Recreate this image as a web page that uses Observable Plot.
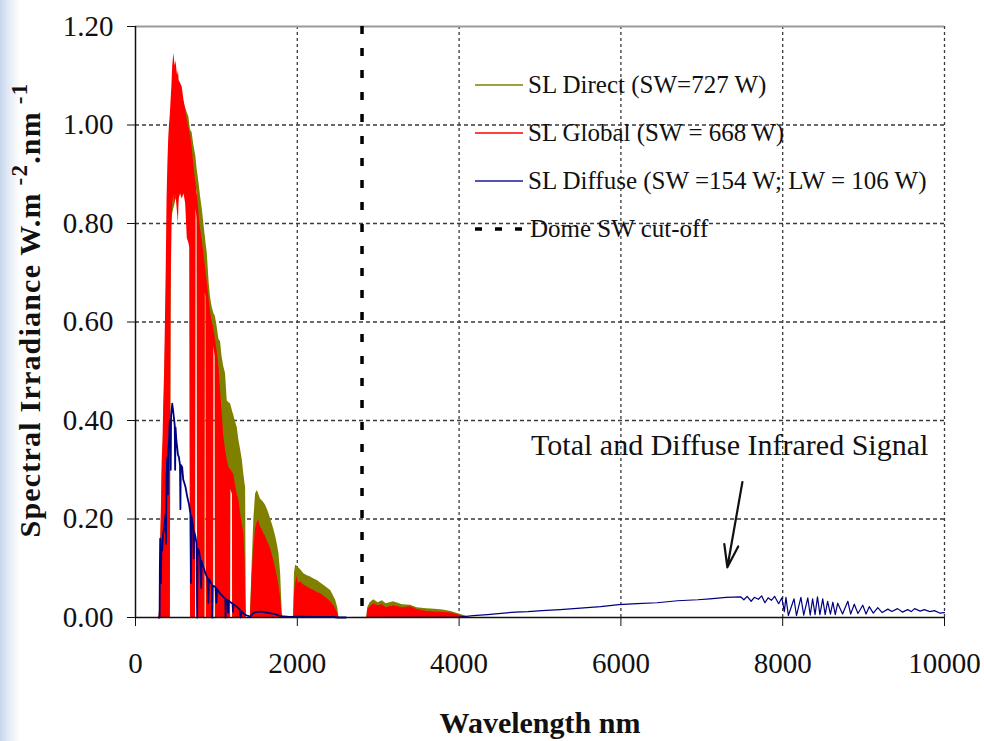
<!DOCTYPE html>
<html>
<head>
<meta charset="utf-8">
<script src="https://cdn.jsdelivr.net/npm/d3@7"></script>
<script src="https://cdn.jsdelivr.net/npm/@observablehq/plot@0.6"></script>
<style>
  html, body { margin: 0; padding: 0; width: 984px; height: 741px; overflow: hidden; }
  body { background: linear-gradient(to right, #c6d6ec 0px, #e3ebf6 9px, #ffffff 20px); }
</style>
</head>
<body>
<div id="chart"></div>
<script>
const FONT = "'Liberation Serif', 'Times New Roman', 'DejaVu Serif', serif";

// ---- Shortwave spectra (min/max envelope of the dense spectra) ----
const wavelength = [290,300,310,320,330,340,350,360,370,380,
  390,400,410,420,430,440,450,460,474,490,
  500,520,530,540,557,577,600,620,640,660,
  672,680,700,720,742,747,762,767,790,804,
  825,845,858,862,872,876,887,910,928,948,
  965,968,985,988,1010,1031,1051,1070,1090,1113,
  1134,1155,1175,1178,1198,1201,1216,1240,1258,1278,
  1300,1320,1340,1355,1361,1368,1372,1420,1440,1463,
  1484,1505,1525,1546,1567,1587,1608,1629,1649,1670,
  1690,1711,1732,1752,1773,1794,1814,1820,1955,1965,
  1979,2000,2010,2041,2082,2124,2165,2206,2247,2288,
  2330,2371,2412,2453,2474,2500,2515,2860,2870,2900,
  2945,3000,3050,3100,3190,3300,3400,3480,3600,3700,
  3800,3900,4020,4140];

const globalHigh = [0,0.02,0.15,0.22,0.32,0.36,0.44,0.50,0.60,0.71,
  0.85,0.92,0.97,1.00,1.02,1.05,1.08,1.12,1.145,1.12,
  1.13,1.10,1.11,1.09,1.085,1.077,1.05,1.03,1.01,0.995,
  0.985,0.98,0.955,0.92,0.887,0.883,0.86,0.855,0.81,0.79,
  0.765,0.74,0.72,0.715,0.70,0.695,0.68,0.645,0.62,0.60,
  0.59,0.585,0.57,0.565,0.54,0.51,0.46,0.42,0.37,0.34,
  0.32,0.305,0.30,0.30,0.295,0.295,0.29,0.265,0.25,0.24,
  0.21,0.19,0.17,0.12,0.05,0,0,0,0.08,0.143,
  0.18,0.193,0.197,0.183,0.178,0.17,0.165,0.155,0.148,0.14,
  0.128,0.115,0.10,0.085,0.065,0.04,0,0,0,0.05,
  0.069,0.085,0.07,0.072,0.066,0.062,0.058,0.055,0.051,0.048,
  0.043,0.038,0.032,0.024,0.018,0.008,0,0,0.015,0.022,
  0.028,0.024,0.026,0.02,0.024,0.02,0.022,0.016,0.012,0.011,
  0.01,0.009,0.004,0];

const globalLow = [0,0,0,0,0,0,0,0,0,0,
  0,0,0,0,0,0.66,0.80,0.84,0.86,0.84,
  0.86,0.82,0.80,0.85,0.86,0.85,0.86,0.84,0.77,0.76,
  0.75,0,0,0,0,0.83,0.81,0,0,0,
  0,0,0,0.66,0.65,0,0,0,0,0,
  0,0.55,0.53,0,0,0,0,0,0,0,
  0,0,0,0.26,0.25,0,0,0,0,0,
  0,0,0,0,0,0,0,0,0,0,
  0,0,0,0,0,0,0,0,0,0,
  0,0,0,0,0,0,0,0,0,0,
  0,0,0,0,0,0,0,0,0,0,
  0,0,0,0,0,0,0,0,0,0,
  0,0,0,0,0,0,0,0,0,0,
  0,0,0,0];

const directHigh = [0,0.02,0.13,0.20,0.29,0.33,0.40,0.46,0.55,0.63,
  0.74,0.80,0.85,0.88,0.90,0.92,0.95,0.97,1.00,1.02,
  1.03,1.04,1.05,1.055,1.06,1.056,1.045,1.035,1.025,1.016,
  1.00,0.99,0.985,0.96,0.94,0.935,0.91,0.905,0.875,0.855,
  0.83,0.80,0.78,0.775,0.76,0.755,0.74,0.68,0.65,0.63,
  0.62,0.618,0.612,0.61,0.59,0.565,0.56,0.53,0.51,0.495,
  0.44,0.436,0.434,0.432,0.42,0.418,0.41,0.395,0.386,0.36,
  0.34,0.32,0.29,0.27,0.264,0.05,0,0,0.10,0.20,
  0.251,0.258,0.25,0.24,0.237,0.233,0.228,0.22,0.211,0.20,
  0.19,0.178,0.165,0.15,0.13,0.09,0.01,0,0,0.09,
  0.106,0.104,0.102,0.097,0.089,0.085,0.082,0.078,0.075,0.07,
  0.065,0.06,0.055,0.042,0.035,0.02,0,0,0.02,0.03,
  0.036,0.03,0.034,0.028,0.032,0.026,0.025,0.02,0.018,0.017,
  0.015,0.012,0.006,0];

const directLow = [0,0,0,0,0,0,0,0,0,0,
  0,0,0,0,0,0.62,0.80,0.82,0.83,0.84,
  0.85,0.84,0.83,0.86,0.88,0.90,0.90,0.90,0.88,0.88,
  0.86,0,0,0,0,0.88,0.86,0,0,0,
  0,0,0,0.70,0.69,0,0,0,0,0,
  0,0.57,0.56,0,0,0,0,0,0,0,
  0,0,0,0.28,0.27,0,0,0,0,0,
  0,0,0,0,0,0,0,0,0,0,
  0,0,0,0,0,0,0,0,0,0,
  0,0,0,0,0,0,0,0,0,0,
  0,0,0,0,0,0,0,0,0,0,
  0,0,0,0,0,0,0,0,0,0,
  0,0,0,0,0,0,0,0,0,0,
  0,0,0,0];

// ---- Diffuse spectrum (SW + LW) ----
const diffuseWl = [285,298,301,305,309,315,320,330,340,350,
  360,371,377,383,392,400,405,412,424,435,
  440,454,465,474,485,490,495,505,515,525,
  536,550,555,560,577,590,600,618,640,660,
  680,686,692,701,715,720,725,742,755,762,
  768,783,800,812,818,825,845,866,890,900,
  908,928,945,950,955,990,1000,1008,1030,1051,
  1080,1110,1113,1118,1140,1145,1150,1175,1200,1205,
  1210,1258,1290,1300,1310,1320,1350,1381,1420,1450,
  1484,1546,1620,1711,1780,1835,1900,2000,2200,2450,
  2500,2600,4000,4175,4350,4552,4700,4850,5023,5250,
  5500,5750,5975,6200,6445,6700,6950,7100,7300,7480,
  7520,7560,7610,7650,7700,7740,7780,7820,7860,7900,
  7950,7990,8020,8040,8070,8140,8170,8225,8260,8310,
  8340,8370,8400,8430,8460,8495,8525,8555,8590,8620,
  8650,8680,8740,8805,8840,8885,8930,8990,9030,9070,
  9120,9175,9230,9300,9350,9420,9480,9545,9590,9630,
  9700,9750,9820,9875,9940,10000];

const diffuseVal = [0,0,0.10,0.16,0.156,0.07,0.14,0.136,0.17,0.177,
  0.19,0.21,0.15,0.278,0.325,0.25,0.34,0.353,0.40,0.30,
  0.41,0.434,0.42,0.407,0.39,0.30,0.386,0.36,0.346,0.33,
  0.326,0.31,0.22,0.31,0.305,0.28,0.275,0.265,0.245,0.231,
  0.21,0.07,0.205,0.197,0.18,0.12,0.175,0.163,0.15,0,
  0.14,0.136,0.12,0.06,0.115,0.109,0.10,0.089,0.08,0.03,
  0.078,0.072,0.066,0,0.065,0.0615,0.03,0.058,0.052,0.048,
  0.043,0.038,0,0.037,0.035,0.01,0.034,0.031,0.028,0.012,
  0.027,0.021,0.016,0,0.013,0.011,0.006,0.004,0.002,0.008,
  0.011,0.012,0.01,0.0075,0.004,0.002,0.001,0.0015,0.0012,0.001,
  0,0,0.001,0.004,0.006,0.009,0.011,0.012,0.014,0.016,
  0.019,0.022,0.026,0.028,0.03,0.034,0.036,0.038,0.041,0.042,
  0.036,0.043,0.033,0.041,0.037,0.044,0.03,0.04,0.035,0.043,
  0.028,0.04,0.012,0.041,0.004,0.038,0.004,0.041,0.005,0.04,
  0.005,0.038,0.006,0.042,0.006,0.038,0.006,0.033,0.007,0.031,
  0.006,0.029,0.007,0.033,0.007,0.027,0.008,0.025,0.007,0.022,
  0.009,0.02,0.01,0.017,0.012,0.018,0.011,0.016,0.012,0.018,
  0.013,0.016,0.012,0.014,0.009,0.01];

// ---- Axes, grid, annotations ----
const xTicks = [0, 2000, 4000, 6000, 8000, 10000];
const yTicks = [0, 0.2, 0.4, 0.6, 0.8, 1.0, 1.2];
const xGrid = [2000, 4000, 6000, 8000, 10000];
const yGrid = [0.2, 0.4, 0.6, 0.8, 1.0];
const domeCutoff = [2800];
const legendLabels = ["SL Direct (SW=727 W)", "SL Global (SW = 668 W)", "SL Diffuse (SW =154 W; LW = 106 W)", "Dome SW cut-off"];
const legendColors = ["#808000", "#ff0000", "#1a1a9a", "#000000"];
const annotationNotes = [{label: "Total and Diffuse Infrared Signal", x: 4890, y: 0.329}];
const annotationArrows = [{x1: 7502, y1: 0.275, x2: 7316, y2: 0.102}];

const sw = wavelength.map((w, i) => ({w, gH: globalHigh[i], gL: globalLow[i], dH: directHigh[i], dL: directLow[i]}));
const diffuse = diffuseWl.map((w, i) => ({w, v: diffuseVal[i]}));

const chart = Plot.plot({
  width: 984,
  height: 741,
  marginLeft: 135,
  marginRight: 40,
  marginTop: 26,
  marginBottom: 124,
  style: {fontFamily: FONT, fontSize: "29px", color: "#111", background: "transparent", overflow: "visible"},
  x: {domain: [0, 10000], ticks: xTicks, tickSize: 9, tickPadding: 26, tickFormat: d => String(d), label: null},
  y: {domain: [0, 1.2], ticks: yTicks, tickSize: 8, tickPadding: 14, tickFormat: d3.format(".2f"), label: null},
  marks: [
    Plot.ruleY(yGrid, {stroke: "#3a3a3a", strokeWidth: 1.3, strokeDasharray: "4,3"}),
    Plot.ruleX(xGrid, {stroke: "#3a3a3a", strokeWidth: 1.3, strokeDasharray: "3,3"}),
    Plot.ruleY([1.2], {stroke: "#9a9a9a", strokeWidth: 2}),
    Plot.areaY(sw, {x: "w", y1: "dL", y2: "dH", fill: "#808000"}),
    Plot.areaY(sw, {x: "w", y1: "gL", y2: "gH", fill: "#ff0000"}),
    Plot.line(diffuse, {filter: d => d.w <= 2600, x: "w", y: "v", stroke: "#000080", strokeWidth: 1.8}),
    Plot.line(diffuse, {filter: d => d.w >= 2600, x: "w", y: "v", stroke: "#000080", strokeWidth: 1.2}),
    Plot.ruleX(domeCutoff, {stroke: "#000", strokeWidth: 3.5, strokeDasharray: "8,14"}),
    Plot.text(annotationNotes, {x: "x", y: "y", text: "label", textAnchor: "start", lineAnchor: "bottom", fontSize: 30, fill: "#111"}),
    Plot.arrow(annotationArrows, {x1: "x1", y1: "y1", x2: "x2", y2: "y2", stroke: "#111", strokeWidth: 2.2, headLength: 16, headAngle: 35}),
    Plot.ruleX([0], {stroke: "#111", strokeWidth: 1.5}),
    Plot.ruleY([0], {stroke: "#111", strokeWidth: 1.5})
  ]
});

document.getElementById("chart").appendChild(chart);

const svg = d3.select(chart);
// force the serif face on every text Plot produced (axes included)
svg.selectAll("text").style("font-family", FONT).style("fill", "#111");
svg.selectAll("g[aria-label^='x-axis'] text, g[aria-label^='y-axis'] text").style("font-size", "29px");

// Legend
const legend = svg.append("g")
  .attr("text-anchor", "start")
  .style("font-family", FONT).style("font-size", "25px").style("fill", "#111");
legendLabels.forEach((label, i) => {
  const y = 85 + i * 48;
  const dashed = i === 3;
  legend.append("line")
    .attr("x1", 475).attr("x2", 523).attr("y1", y).attr("y2", y)
    .attr("stroke", legendColors[i])
    .attr("stroke-width", dashed ? 3.5 : 1.3)
    .attr("stroke-dasharray", dashed ? "7,13" : null);
  legend.append("text").attr("text-anchor", "start")
    .attr("x", dashed ? 530 : 528).attr("y", y + 8).text(label);
});

// Axis titles
svg.append("text")
  .attr("x", 540).attr("y", 733)
  .attr("text-anchor", "middle")
  .style("font-family", FONT).style("font-weight", "bold").style("font-size", "30px").style("fill", "#111")
  .text("Wavelength nm");

const yt = svg.append("text")
  .attr("transform", "translate(40,310) rotate(-90)")
  .attr("text-anchor", "middle")
  .style("font-family", FONT).style("font-weight", "bold").style("font-size", "30px")
  .style("letter-spacing", "1.2px").style("fill", "#111");
yt.append("tspan").text("Spectral Irradiance W.m");
yt.append("tspan").attr("dy", -13).style("font-size", "23px").text(" -2");
yt.append("tspan").attr("dy", 13).text(".nm");
yt.append("tspan").attr("dy", -13).style("font-size", "23px").text(" -1");
</script>
</body>
</html>
